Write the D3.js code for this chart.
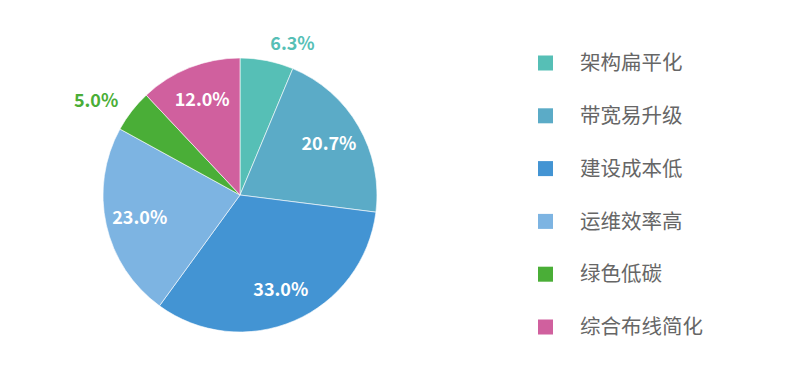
<!DOCTYPE html>
<html>
<head>
<meta charset="utf-8">
<script src="https://cdn.jsdelivr.net/npm/d3@7"></script>
<style>
  body { margin: 0; background: #fff; }
  svg { display: block; font-family: 'Noto Sans CJK SC', 'Noto Sans', sans-serif; }
</style>
</head>
<body>
<div id="wrapper"></div>
<script>
// chart data
const categories = ['架构扁平化', '带宽易升级', '建设成本低', '运维效率高', '绿色低碳', '综合布线简化']
const values = [6.3, 20.7, 33.0, 23.0, 5.0, 12.0]
const colors = ['#56bfb6', '#5babc7', '#4394d3', '#7db4e2', '#4aae37', '#d0609e']

const dimensions = {
  width: 801,
  height: 374,
  cx: 240,
  cy: 195,
  radius: 137,
}

const svg = d3
  .select('#wrapper')
  .append('svg')
  .attr('width', dimensions.width)
  .attr('height', dimensions.height)

const pie = d3.pie().sort(null).value((d) => d)
const arcs = pie(values)

const arc = d3.arc().innerRadius(0).outerRadius(dimensions.radius)

const bounds = svg
  .append('g')
  .attr('transform', `translate(${dimensions.cx}, ${dimensions.cy})`)

bounds
  .selectAll('path')
  .data(arcs)
  .enter()
  .append('path')
  .attr('d', arc)
  .attr('fill', (d, i) => colors[i])
  .attr('stroke', '#fff')
  .attr('stroke-width', 0.6)

// small slices get their label outside the pie
const midAngle = (d) => (d.startAngle + d.endAngle) / 2
const isSmall = (d) => d.value < 8

const innerR = dimensions.radius * 0.75
const outerR = dimensions.radius + 17

bounds
  .selectAll('text.label')
  .data(arcs)
  .enter()
  .append('text')
  .attr('class', 'label')
  .attr('x', (d) => Math.sin(midAngle(d)) * (isSmall(d) ? outerR : innerR))
  .attr('y', (d) => -Math.cos(midAngle(d)) * (isSmall(d) ? outerR : innerR))
  .attr('dy', '0.35em')
  .attr('text-anchor', (d) =>
    isSmall(d) ? (Math.sin(midAngle(d)) > 0 ? 'start' : 'end') : 'middle'
  )
  .attr('font-family', "'Noto Sans CJK SC', 'Noto Sans', sans-serif")
  .attr('font-weight', 'bold')
  .attr('font-size', 18)
  .attr('fill', (d, i) => (isSmall(d) ? colors[i] : '#fff'))
  .text((d) => d.value.toFixed(1) + '%')

// legend
const legend = svg.append('g').attr('transform', 'translate(538, 63)')
const legendStep = 52.8

const items = legend
  .selectAll('g')
  .data(categories)
  .enter()
  .append('g')
  .attr('transform', (d, i) => `translate(0, ${i * legendStep})`)

items
  .append('rect')
  .attr('x', 0)
  .attr('y', -7.5)
  .attr('width', 15)
  .attr('height', 15)
  .attr('fill', (d, i) => colors[i])

items
  .append('text')
  .attr('x', 42)
  .attr('dy', '0.35em')
  .attr('font-size', 20.5)
  .attr('fill', '#666')
  .text((d) => d)
</script>
</body>
</html>
